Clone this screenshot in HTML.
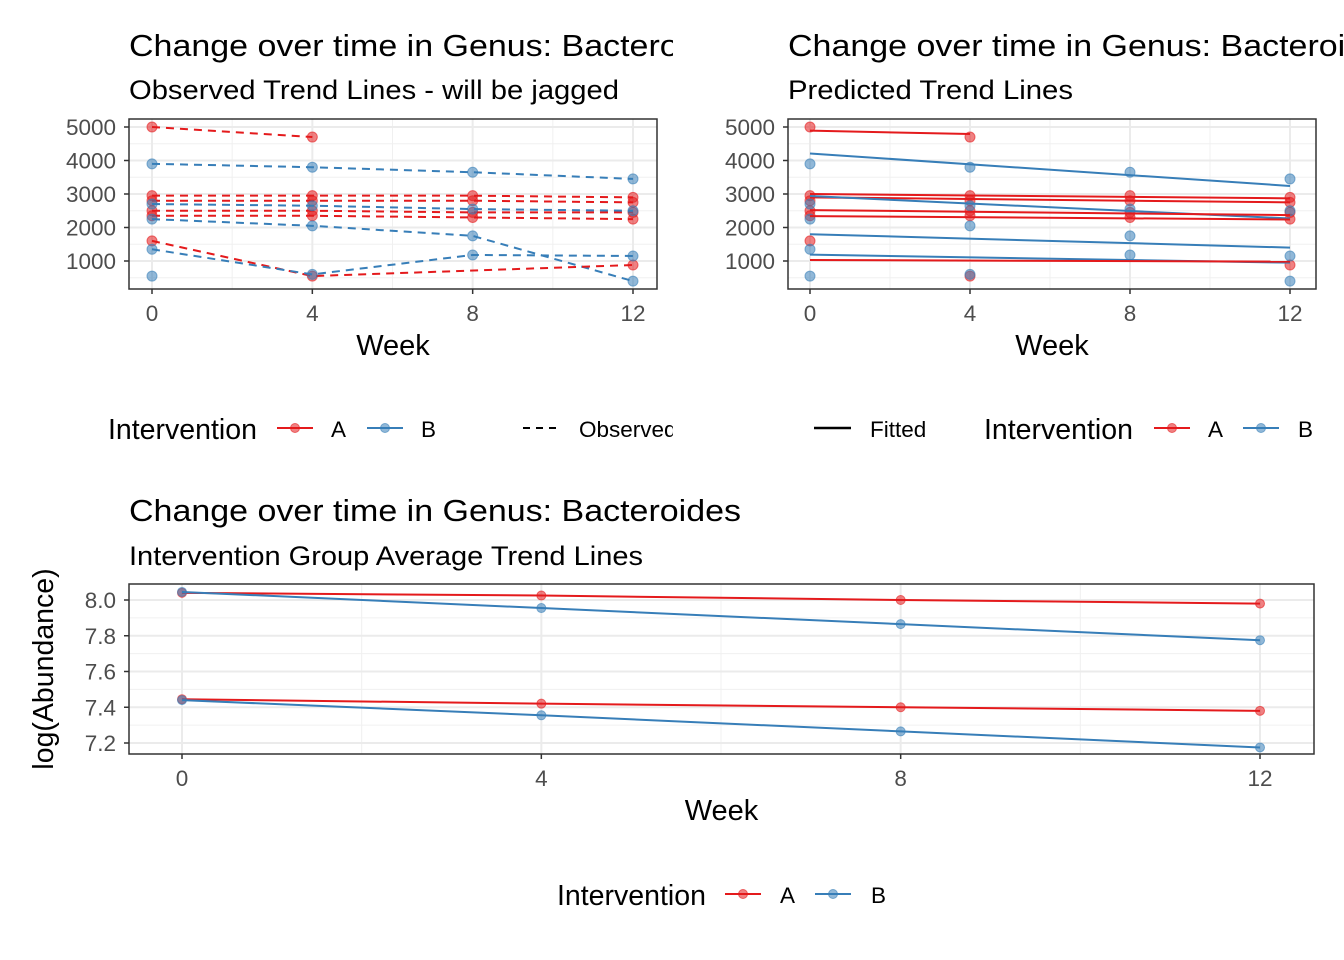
<!DOCTYPE html>
<html><head><meta charset="utf-8"><style>
html,body{margin:0;padding:0;background:#fff}
svg{display:block;font-family:"Liberation Sans",Arial,sans-serif}
</style></head><body>
<svg id="chart" width="1344" height="960" viewBox="0 0 1344 960" xmlns="http://www.w3.org/2000/svg">
<defs>
<clipPath id="clipL"><rect x="0" y="0" width="673" height="960"/></clipPath>
</defs>
<rect width="1344" height="960" fill="#fff"/>
<g id="root"></g>
</svg>
<script>
// ---- data ----
const weeks = [0, 4, 8, 12];
const obsGroups = ["A","B","A","A","A","A","B","B","A","B","B"];
const obsSeries = [
  [5000, 4700, null, null],
  [3900, 3800, 3650, 3450],
  [2950, 2950, 2950, 2900],
  [2800, 2800, 2800, 2750],
  [2500, 2500, 2450, 2450],
  [2350, 2350, 2300, 2250],
  [2700, 2650, 2550, 2500],
  [2250, 2050, 1750, 400],
  [1600, 550, null, 880],
  [1350, 600, 1180, 1150],
  [550, null, null, null]
];
const fitGroups = ["A","B","A","A","B","A","A","B","B","A"];
const fitStart = [4890, 4210, 3000, 2900, 2940, 2520, 2340, 1800, 1190, 1030];
const fitEnd   = [4790, 3240, 2870, 2750, 2270, 2370, 2240, 1400, 950, 980];
const fitLastWeek = [4, 12, 12, 12, 12, 12, 12, 12, 12, 12];
const avgGroups = ["A","B","A","B"];
const avgSeries = [
  [8.04, 8.025, 8.00, 7.98],
  [8.045, 7.955, 7.865, 7.775],
  [7.445, 7.42, 7.40, 7.38],
  [7.44, 7.355, 7.265, 7.175]
];
const yTicksTop = [1000, 2000, 3000, 4000, 5000];
const yTicksBot = [7.2, 7.4, 7.6, 7.8, 8.0];
const xTicks = [0, 4, 8, 12];
const colors = {A: "#E41A1C", B: "#377EB8"};

const NS = "http://www.w3.org/2000/svg";
const root = document.getElementById("root");
function el(tag, attrs, parent, text) {
  const e = document.createElementNS(NS, tag);
  for (const k in attrs) e.setAttribute(k, attrs[k]);
  if (text !== undefined) e.textContent = text;
  (parent || root).appendChild(e);
  return e;
}

function panel(opts) {
  const g = el("g", {});
  
  
  const {x0, x1, y0, y1, xs, ys} = opts;
  el("rect", {x: x0, y: y0, width: x1 - x0, height: y1 - y0, fill: "#fff"}, g);
  for (let i = 0; i < xTicks.length - 1; i++) {
    const m = (xTicks[i] + xTicks[i + 1]) / 2;
    el("line", {x1: xs(m), x2: xs(m), y1: y0, y2: y1, stroke: "#f0f0f0", "stroke-width": 1}, g);
  }
  for (let i = 0; i < opts.yTicks.length - 1; i++) {
    const m = (opts.yTicks[i] + opts.yTicks[i + 1]) / 2;
    el("line", {x1: x0, x2: x1, y1: ys(m), y2: ys(m), stroke: "#f0f0f0", "stroke-width": 1}, g);
  }
  if (opts.extraMinor) opts.extraMinor.forEach(v => {
    el("line", {x1: x0, x2: x1, y1: ys(v), y2: ys(v), stroke: "#f0f0f0", "stroke-width": 1}, g);
  });
  xTicks.forEach(t => el("line", {x1: xs(t), x2: xs(t), y1: y0, y2: y1, stroke: "#ebebeb", "stroke-width": 2}, g));
  opts.yTicks.forEach(t => el("line", {x1: x0, x2: x1, y1: ys(t), y2: ys(t), stroke: "#ebebeb", "stroke-width": 2}, g));
  xTicks.forEach(t => {
    el("line", {x1: xs(t), x2: xs(t), y1: y1, y2: y1 + 5, stroke: "#333", "stroke-width": 1.5}, g);
    const lb = el("text", {x: xs(t), y: y1 + 32, "font-size": 22.5, fill: "#4d4d4d", "text-anchor": "middle"}, g, String(t));
    
    
  });
  opts.yTicks.forEach(t => {
    el("line", {x1: x0 - 5, x2: x0, y1: ys(t), y2: ys(t), stroke: "#333", "stroke-width": 1.5}, g);
    const lb = el("text", {x: x0 - 13, y: ys(t) + 8, "font-size": 22.5, fill: "#4d4d4d", "text-anchor": "end"}, g, opts.fmt(t));
    
    
  });
  const xt = el("text", {x: (x0 + x1) / 2, y: y1 + 66, "font-size": 29, fill: "#000", "text-anchor": "middle"}, g, "Week");
  
  
  const marks = el("g", {}, g);
  const border = () => el("rect", {x: x0, y: y0, width: x1 - x0, height: y1 - y0, fill: "none", stroke: "#333", "stroke-width": 1.5}, g);
  return {g, marks, border};
}

function dot(parent, x, y, c, r) {
  const d = el("circle", {cx: x, cy: y, r: r || 5, fill: c, "fill-opacity": 0.55, stroke: c, "stroke-opacity": 0.6, "stroke-width": 1}, parent);
  
  
}

// ---- top-left panel ----
(function () {
  const x0 = 129, x1 = 657, y0 = 119, y1 = 289;
  const xs = w => 152 + w * (633 - 152) / 12;
  const ys = v => 127 + (5000 - v) * (261 - 127) / 4000;
  const p = panel({name: "observed-panel", x0, x1, y0, y1, xs, ys, yTicks: yTicksTop, fmt: String, extraMinor: [500]});
  obsSeries.forEach((s, i) => {
    const c = colors[obsGroups[i]];
    const pts = [];
    s.forEach((v, j) => { if (v !== null) pts.push([xs(weeks[j]), ys(v)]); });
    if (pts.length > 1) {
      const l = el("polyline", {points: pts.map(p => p.join(",")).join(" "), fill: "none", stroke: c, "stroke-width": 2, "stroke-dasharray": "8,6"}, p.marks);
      
      
    }
    pts.forEach(pt => dot(p.marks, pt[0], pt[1], c));
  });
  p.border();
})();

// ---- top-right panel ----
(function () {
  const x0 = 788, x1 = 1316, y0 = 119, y1 = 289;
  const xs = w => 810 + w * (1290 - 810) / 12;
  const ys = v => 127 + (5000 - v) * (261 - 127) / 4000;
  const p = panel({name: "predicted-panel", x0, x1, y0, y1, xs, ys, yTicks: yTicksTop, fmt: String, extraMinor: [500]});
  obsSeries.forEach((s, i) => {
    const c = colors[obsGroups[i]];
    s.forEach((v, j) => { if (v !== null) dot(p.marks, xs(weeks[j]), ys(v), c); });
  });
  fitStart.forEach((v, i) => {
    const l = el("line", {x1: xs(0), y1: ys(v), x2: xs(fitLastWeek[i]), y2: ys(fitEnd[i]), stroke: colors[fitGroups[i]], "stroke-width": 2}, p.marks);
    
    
  });
  p.border();
})();

// ---- bottom panel ----
(function () {
  const x0 = 129, x1 = 1314, y0 = 584, y1 = 754;
  const xs = w => 182 + w * (1260 - 182) / 12;
  const ys = v => 600 + (8.0 - v) * (743 - 600) / 0.8;
  const p = panel({name: "average-panel", x0, x1, y0, y1, xs, ys, yTicks: yTicksBot, fmt: v => v.toFixed(1)});
  avgSeries.forEach((s, i) => {
    const c = colors[avgGroups[i]];
    const l = el("polyline", {points: s.map((v, j) => xs(weeks[j]) + "," + ys(v)).join(" "), fill: "none", stroke: c, "stroke-width": 2}, p.marks);
    
    
    s.forEach((v, j) => dot(p.marks, xs(weeks[j]), ys(v), c, 4.5));
  });
  p.border();
  const yt = el("text", {x: 0, y: 0, "font-size": 28.5, fill: "#000", "text-anchor": "middle", transform: "translate(53,669) rotate(-90)"}, p.g, "log(Abundance)");
  
  
})();

// ---- titles ----
function title(x, y, size, txt, len, name, clip) {
  const t = el("text", {x: x, y: y, "font-size": size, fill: "#000", textLength: len, lengthAdjust: "spacingAndGlyphs"}, root, txt);
  if (clip) t.setAttribute("clip-path", "url(#clipL)");
  
  
}
title(129, 56, 31, "Change over time in Genus: Bacteroides", 612, "observed-title", true);
title(129, 99, 27, "Observed Trend Lines - will be jagged", 490, "observed-subtitle");
title(788, 56, 31, "Change over time in Genus: Bacteroides", 612, "predicted-title");
title(788, 99, 27, "Predicted Trend Lines", 285, "predicted-subtitle");
title(129, 521, 31, "Change over time in Genus: Bacteroides", 612, "average-title");
title(129, 565, 27, "Intervention Group Average Trend Lines", 514, "average-subtitle");

// ---- legends ----
function legendText(x, y, size, txt, name, clip) {
  const t = el("text", {x: x, y: y, "font-size": size, fill: "#000"}, root, txt);
  if (clip) t.setAttribute("clip-path", "url(#clipL)");
  
  
}
function legendKey(x, y, c, name) {
  const g = el("g", {});
  
  
  el("line", {x1: x, x2: x + 36, y1: y, y2: y, stroke: c, "stroke-width": 2}, g);
  el("circle", {cx: x + 18, cy: y, r: 4.5, fill: c, "fill-opacity": 0.55, stroke: c, "stroke-opacity": 0.6}, g);
}
legendText(108, 439, 28.5, "Intervention", "legend-title");
legendKey(277, 428, colors.A, "legend-entry-a");
legendText(331, 437, 22.5, "A", "legend-label-a");
legendKey(367, 428, colors.B, "legend-entry-b");
legendText(421, 437, 22.5, "B", "legend-label-b");
(function(){ const g = el("g", {});  
  el("line", {x1: 523, x2: 561, y1: 428, y2: 428, stroke: "#000", "stroke-width": 2, "stroke-dasharray": "7,6"}, g); })();
legendText(579, 437, 22.5, "Observed", "legend-label-observed", true);
(function(){ const g = el("g", {});  
  el("line", {x1: 814, x2: 851, y1: 428, y2: 428, stroke: "#000", "stroke-width": 2.5}, g); })();
legendText(870, 437, 22.5, "Fitted", "legend-label-fitted");
legendText(984, 439, 28.5, "Intervention", "legend-title");
legendKey(1154, 428, colors.A, "legend-entry-a");
legendText(1208, 437, 22.5, "A", "legend-label-a");
legendKey(1243, 428, colors.B, "legend-entry-b");
legendText(1298, 437, 22.5, "B", "legend-label-b");
legendText(557, 905, 28.5, "Intervention", "legend-title");
legendKey(725, 894, colors.A, "legend-entry-a");
legendText(780, 903, 22.5, "A", "legend-label-a");
legendKey(815, 894, colors.B, "legend-entry-b");
legendText(871, 903, 22.5, "B", "legend-label-b");
</script>
</body></html>
